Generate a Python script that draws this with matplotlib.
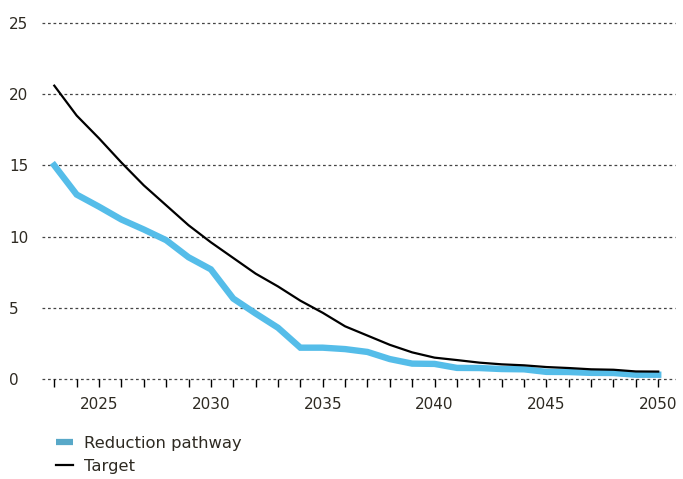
import matplotlib
matplotlib.use("Agg")
import matplotlib.pyplot as plt
from matplotlib.lines import Line2D

# ── Data ──────────────────────────────────────────────────────────────────────
years = list(range(2023, 2051))

reduction = [15.0, 12.95, 12.1, 11.2, 10.5, 9.75, 8.55, 7.7, 5.65, 4.6,
             3.6, 2.2, 2.2, 2.1, 1.9, 1.4, 1.08, 1.06, 0.78, 0.77,
             0.7, 0.68, 0.5, 0.49, 0.43, 0.42, 0.3, 0.3]

target = [20.6, 18.5, 16.9, 15.2, 13.6, 12.2, 10.8, 9.6, 8.5, 7.4,
          6.5, 5.5, 4.65, 3.7, 3.05, 2.4, 1.87, 1.5, 1.33, 1.15,
          1.03, 0.96, 0.84, 0.77, 0.68, 0.65, 0.53, 0.52]

y_ticks = [0, 5, 10, 15, 20, 25]
x_labelled = [2025, 2030, 2035, 2040, 2045, 2050]

BLUE = "#55bde9"
TEXT = "#2e2a22"

plt.rcParams["font.family"] = ["DejaVu Sans"]

fig = plt.figure(figsize=(6.83, 4.79), dpi=100)
ax = fig.add_axes([42 / 683, 1 - 379 / 479, (675 - 42) / 683, (379 - 23) / 479])

ax.plot(years, reduction, color=BLUE, linewidth=4.6, solid_joinstyle="miter", zorder=3)
ax.plot(years, target, color="black", linewidth=1.6, zorder=4)

ax.set_ylim(0, 25)
ax.set_xlim(2022.45, 2050.75)

# dotted horizontal grid (drawn unclipped so the 0 and 25 lines show fully)
for v in y_ticks:
    ax.axhline(v, color="#444444", linestyle=(0, (2.2, 2.2)), linewidth=0.9,
               zorder=1, clip_on=False)

ax.set_yticks(y_ticks)
ax.set_yticklabels([str(v) for v in y_ticks], ha="left")
ax.tick_params(axis="y", length=0, pad=23.5, labelsize=11, labelcolor=TEXT)

ax.set_xticks(years)
ax.set_xticklabels([str(y) if y in x_labelled else "" for y in years])
ax.tick_params(axis="x", length=6, width=1, color="black", pad=7,
               labelsize=11, labelcolor=TEXT)

for s in ax.spines.values():
    s.set_visible(False)

handles = [
    Line2D([], [], color="#58a8c8", linewidth=4.5, solid_capstyle="butt"),
    Line2D([], [], color="black", linewidth=1.6),
]
fig.legend(handles, ["Reduction pathway", "Target"],
           loc="upper left", bbox_to_anchor=(41 / 683, 1 - 421 / 479),
           frameon=False, fontsize=11.8, handlelength=1.05, handletextpad=0.65,
           labelspacing=0.5, labelcolor=TEXT)

fig.savefig("out.png", dpi=100)
